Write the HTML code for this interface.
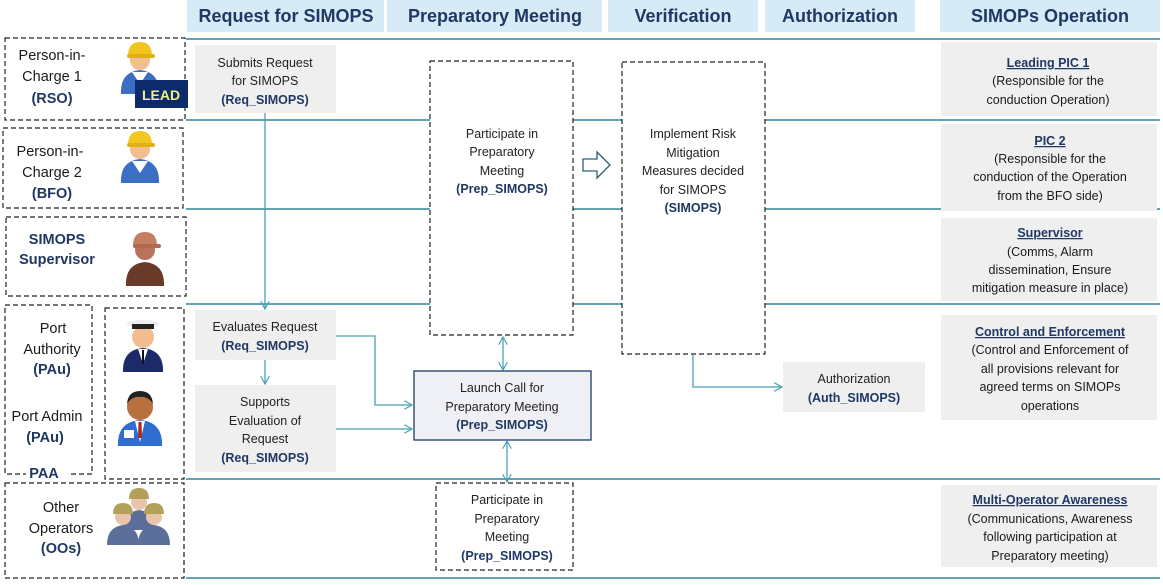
<!DOCTYPE html>
<html><head><meta charset="utf-8"><style>
html,body{margin:0;padding:0;background:#fff;}
svg{display:block;font-family:"Liberation Sans",sans-serif;}
</style></head><body>
<svg width="1163" height="585" viewBox="0 0 1163 585" xmlns="http://www.w3.org/2000/svg">
<defs>
<marker id="ar" viewBox="0 0 10 10" refX="9" refY="5" markerWidth="9" markerHeight="9" orient="auto-start-reverse" markerUnits="userSpaceOnUse"><path d="M0,0 L9,5 L0,10" fill="none" stroke="#4aa0b5" stroke-width="1.3"/></marker>
</defs>
<!-- headers -->
<g fill="#d7ebf6">
<rect x="187" y="0" width="197" height="32"/><rect x="387" y="0" width="215" height="32"/>
<rect x="608" y="0" width="150" height="32"/><rect x="765" y="0" width="150" height="32"/>
<rect x="940" y="0" width="220" height="32"/>
</g>
<g fill="#1f3864" font-weight="bold" font-size="18" text-anchor="middle">
<text x="286" y="22">Request for SIMOPS</text><text x="495" y="22">Preparatory Meeting</text>
<text x="683" y="22">Verification</text><text x="840" y="22">Authorization</text>
<text x="1050" y="22">SIMOPs Operation</text>
</g>
<!-- lanes -->
<g stroke="#31849b" stroke-width="1.5">
<line x1="186" y1="39" x2="1160" y2="39"/><line x1="186" y1="120" x2="1160" y2="120"/>
<line x1="186" y1="209" x2="1160" y2="209"/><line x1="186" y1="304" x2="1160" y2="304"/>
<line x1="186" y1="479" x2="1160" y2="479"/><line x1="186" y1="578" x2="1160" y2="578"/>
</g>
<!-- left dashed boxes -->
<g fill="#fff" stroke="#222" stroke-width="1.2" stroke-dasharray="5,3">
<rect x="5" y="38" width="180" height="82"/><rect x="3" y="128" width="180" height="80"/>
<rect x="6" y="217" width="180" height="79"/><rect x="5" y="305" width="87" height="169"/>
<rect x="105" y="308" width="79" height="171"/><rect x="5" y="483" width="179" height="95"/>
</g>
<rect x="26" y="466" width="45" height="14" fill="#fff"/>
<g fill="#1a1a1a" font-size="14.5" text-anchor="middle">
<text x="52" y="60">Person-in-</text><text x="52" y="81">Charge 1</text><text x="52" y="103" font-weight="bold" fill="#1f3864">(RSO)</text>
<text x="50" y="156">Person-in-</text><text x="52" y="177">Charge 2</text><text x="52" y="198" font-weight="bold" fill="#1f3864">(BFO)</text>
<text x="57" y="244" font-weight="bold" fill="#1f3864">SIMOPS</text><text x="57" y="264" font-weight="bold" fill="#1f3864">Supervisor</text>
<text x="53" y="333">Port</text><text x="52" y="354">Authority</text><text x="52" y="374" font-weight="bold" fill="#1f3864">(PAu)</text>
<text x="47" y="421">Port Admin</text><text x="45" y="442" font-weight="bold" fill="#1f3864">(PAu)</text>
<text x="44" y="478" font-weight="bold" fill="#1f3864">PAA</text>
<text x="61" y="512">Other</text><text x="61" y="533">Operators</text><text x="61" y="553" font-weight="bold" fill="#1f3864">(OOs)</text>
</g>
<!-- people -->
<g id="w1" transform="translate(140,44)">
<path d="M-19,50 Q-20,28 0,26 Q20,28 19,50 Z" fill="#3b6fc4"/>
<path d="M-8,28 L0,40 L8,28 Z" fill="#fff"/>
<circle cx="0" cy="16" r="10" fill="#f2bd90"/>
<path d="M-12,12 Q-12,-2 0,-2 Q12,-2 12,12 Z" fill="#f2c521"/>
<rect x="-13" y="10" width="28" height="4" rx="2" fill="#e0b010"/>
</g>
<g transform="translate(140,133)">
<path d="M-19,50 Q-20,28 0,26 Q20,28 19,50 Z" fill="#3b6fc4"/>
<path d="M-8,28 L0,40 L8,28 Z" fill="#fff"/>
<circle cx="0" cy="16" r="10" fill="#f2bd90"/>
<path d="M-12,12 Q-12,-2 0,-2 Q12,-2 12,12 Z" fill="#f2c521"/>
<rect x="-13" y="10" width="28" height="4" rx="2" fill="#e0b010"/>
</g>
<g transform="translate(145,234)">
<path d="M-19,52 Q-20,30 0,28 Q20,30 19,52 Z" fill="#6a3a28"/>
<circle cx="0" cy="16" r="10" fill="#b8745a"/>
<path d="M-12,12 Q-12,-2 0,-2 Q12,-2 12,12 Z" fill="#c67e62"/>
<rect x="-12" y="10" width="28" height="4" rx="2" fill="#b06a50"/>
</g>
<g transform="translate(143,320)">
<path d="M-20,52 Q-21,30 0,28 Q21,30 20,52 Z" fill="#1c2a6a"/>
<path d="M-5,29 L0,44 L5,29 Z" fill="#fff"/><rect x="-1" y="30" width="2" height="14" fill="#111"/>
<circle cx="0" cy="17" r="11" fill="#f2bd90"/>
<ellipse cx="0" cy="4" rx="16" ry="4" fill="#eee"/><rect x="-11" y="4" width="22" height="5" fill="#222"/>
</g>
<g transform="translate(140,392)">
<path d="M-22,54 Q-23,30 0,28 Q23,30 22,54 Z" fill="#2f6ed0"/>
<path d="M-5,29 L0,50 L5,29 Z" fill="#fff"/><path d="M-1.5,30 L1.5,30 L2,46 L-2,46Z" fill="#a52a1a"/>
<rect x="-16" y="38" width="10" height="8" fill="#fff"/>
<circle cx="0" cy="15" r="13" fill="#b8703e"/>
<path d="M-13,12 Q-12,-1 0,-1 Q12,-1 13,12 Q8,4 0,5 Q-8,4 -13,12Z" fill="#222"/>
</g>
<g transform="translate(139,490)">
<path d="M-16,40 Q-16,22 0,20 Q16,22 16,40 Z" fill="#5b6f9a"/>
<circle cx="0" cy="12" r="8" fill="#e8c4a8"/><path d="M-10,9 Q-10,-2 0,-2 Q10,-2 10,9 Z" fill="#b3a05a"/>
</g>
<g transform="translate(123,505)">
<path d="M-16,40 Q-16,22 0,20 Q16,22 16,40 Z" fill="#5b6f9a"/>
<circle cx="0" cy="12" r="8" fill="#e8c4a8"/><path d="M-10,9 Q-10,-2 0,-2 Q10,-2 10,9 Z" fill="#b3a05a"/>
</g>
<g transform="translate(154,505)">
<path d="M-16,40 Q-16,22 0,20 Q16,22 16,40 Z" fill="#5b6f9a"/>
<circle cx="0" cy="12" r="8" fill="#e8c4a8"/><path d="M-10,9 Q-10,-2 0,-2 Q10,-2 10,9 Z" fill="#b3a05a"/>
</g>
<rect x="135" y="80" width="53" height="28" fill="#0d2a6b"/>
<text x="161" y="100" fill="#f2ef8a" font-weight="bold" font-size="14" text-anchor="middle">LEAD</text>
<!-- gray boxes -->
<g fill="#efefef">
<rect x="195" y="45" width="141" height="68"/><rect x="195" y="310" width="141" height="50"/>
<rect x="195" y="385" width="141" height="87"/><rect x="783" y="362" width="142" height="50"/>
<rect x="941" y="42" width="216" height="74"/><rect x="941" y="124" width="216" height="87"/>
<rect x="941" y="218" width="216" height="83"/><rect x="941" y="315" width="216" height="105"/>
<rect x="941" y="485" width="216" height="82"/>
</g>
<!-- dashed process boxes -->
<g fill="#fff" stroke="#222" stroke-width="1.2" stroke-dasharray="5,3">
<rect x="430" y="61" width="143" height="274"/><rect x="622" y="62" width="143" height="292"/>
<rect x="436" y="483" width="137" height="87"/>
</g>
<rect x="414" y="371" width="177" height="69" fill="#eef0f5" stroke="#1f3864" stroke-width="1.3"/>
<!-- connectors -->
<g stroke="#4aa0b5" stroke-width="1.3" fill="none">
<line x1="265" y1="113" x2="265" y2="309" marker-end="url(#ar)"/>
<line x1="265" y1="360" x2="265" y2="384" marker-end="url(#ar)"/>
<polyline points="336,336 375,336 375,405 412,405" marker-end="url(#ar)"/>
<line x1="336" y1="429" x2="412" y2="429" marker-end="url(#ar)"/>
<line x1="503" y1="337" x2="503" y2="370" marker-start="url(#ar)" marker-end="url(#ar)"/>
<line x1="507" y1="441" x2="507" y2="482" marker-start="url(#ar)" marker-end="url(#ar)"/>
<polyline points="693,355 693,387 782,387" marker-end="url(#ar)"/>
</g>
<path d="M583,159 L597,159 L597,152 L610,165 L597,178 L597,171 L583,171 Z" fill="#fff" stroke="#2a6070" stroke-width="1.3"/>
<!-- process text -->
<g fill="#222" font-size="12.5" text-anchor="middle">
<text x="265" y="67">Submits Request</text><text x="265" y="85">for SIMOPS</text><text x="265" y="104" font-weight="bold" fill="#1f3864">(Req_SIMOPS)</text>
<text x="265" y="331">Evaluates Request</text><text x="265" y="350" font-weight="bold" fill="#1f3864">(Req_SIMOPS)</text>
<text x="265" y="406">Supports</text><text x="265" y="425">Evaluation of</text><text x="265" y="443">Request</text><text x="265" y="462" font-weight="bold" fill="#1f3864">(Req_SIMOPS)</text>
<text x="502" y="138">Participate in</text><text x="502" y="156">Preparatory</text><text x="502" y="175">Meeting</text><text x="502" y="193" font-weight="bold" fill="#1f3864">(Prep_SIMOPS)</text>
<text x="693" y="138">Implement Risk</text><text x="693" y="157">Mitigation</text><text x="693" y="175">Measures decided</text><text x="693" y="194">for SIMOPS</text><text x="693" y="212" font-weight="bold" fill="#1f3864">(SIMOPS)</text>
<text x="502" y="392">Launch Call for</text><text x="502" y="411">Preparatory Meeting</text><text x="502" y="429" font-weight="bold" fill="#1f3864">(Prep_SIMOPS)</text>
<text x="507" y="504">Participate in</text><text x="507" y="523">Preparatory</text><text x="507" y="541">Meeting</text><text x="507" y="560" font-weight="bold" fill="#1f3864">(Prep_SIMOPS)</text>
<text x="854" y="383">Authorization</text><text x="854" y="402" font-weight="bold" fill="#1f3864">(Auth_SIMOPS)</text>
</g>
<g fill="#1a1a1a" font-size="12.5" text-anchor="middle">
<text x="1048" y="67" font-weight="bold" fill="#1f3864" text-decoration="underline">Leading PIC 1</text>
<text x="1048" y="85">(Responsible for the</text><text x="1048" y="104">conduction Operation)</text>
<text x="1050" y="145" font-weight="bold" fill="#1f3864" text-decoration="underline">PIC 2</text>
<text x="1050" y="163">(Responsible for the</text><text x="1050" y="181">conduction of the Operation</text><text x="1050" y="200">from the BFO side)</text>
<text x="1050" y="237" font-weight="bold" fill="#1f3864" text-decoration="underline">Supervisor</text>
<text x="1050" y="256">(Comms, Alarm</text><text x="1050" y="274">dissemination, Ensure</text><text x="1050" y="292">mitigation measure in place)</text>
<text x="1050" y="336" font-weight="bold" fill="#1f3864" text-decoration="underline">Control and Enforcement</text>
<text x="1050" y="354">(Control and Enforcement of</text><text x="1050" y="373">all provisions relevant for</text><text x="1050" y="391">agreed terms on SIMOPs</text><text x="1050" y="410">operations</text>
<text x="1050" y="504" font-weight="bold" fill="#1f3864" text-decoration="underline">Multi-Operator Awareness</text>
<text x="1050" y="523">(Communications, Awareness</text><text x="1050" y="541">following participation at</text><text x="1050" y="560">Preparatory meeting)</text>
</g>
</svg>
</body></html>
